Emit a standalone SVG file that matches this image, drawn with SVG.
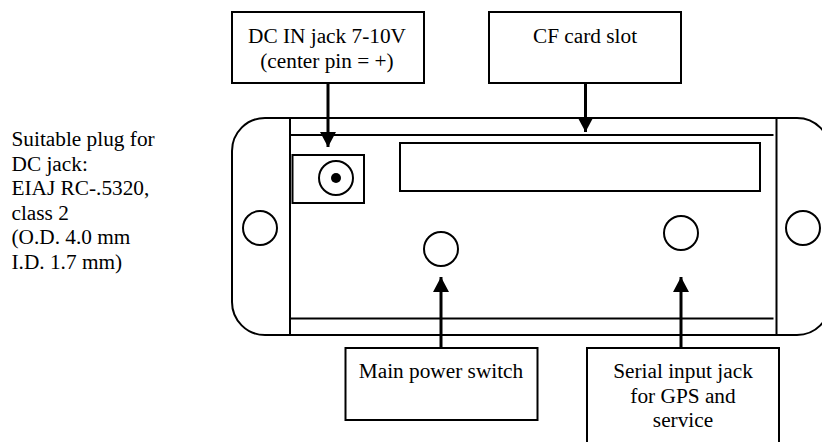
<svg xmlns="http://www.w3.org/2000/svg" width="822" height="442" viewBox="0 0 822 442">
<style>
.s{fill:none;stroke:#000;stroke-width:2}
.b{fill:#fff;stroke:#000;stroke-width:2}
.t{font-family:"Liberation Serif","Times New Roman",serif;font-size:21.3px;fill:#000}
.m{text-anchor:middle}
</style>
<defs>
<marker id="ah" markerUnits="userSpaceOnUse" markerWidth="16" markerHeight="16" refX="15" refY="8" orient="auto"><path d="M0 0L15 8L0 16Z" fill="#000"/></marker>
</defs>
<rect width="822" height="442" fill="#fff"/>
<g id="enclosure">
<rect class="s" x="232" y="118" width="598" height="217" rx="33" ry="33"/>
<path class="s" d="M290 118V335M776.5 118V335M290 135H773.5M290 318.5H773.5"/>
<circle class="s" cx="260" cy="228" r="17"/>
<circle class="s" cx="803" cy="228" r="17"/>
</g>
<g id="cf-slot"><rect class="s" x="400" y="143" width="360" height="48"/></g>
<g id="dc-jack">
<rect class="s" x="292.5" y="155" width="71.500" height="48"/>
<circle class="s" cx="336" cy="178" r="17"/>
<circle cx="336" cy="178" r="5" fill="#000"/>
</g>
<g id="power-switch"><circle class="s" cx="441" cy="249" r="17"/></g>
<g id="serial-jack"><circle class="s" cx="681" cy="233" r="17"/></g>
<g id="plug-note">
<text class="t" x="11.500" y="146">Suitable plug for</text>
<text class="t" x="11.500" y="170.500">DC jack:</text>
<text class="t" x="11.500" y="195">EIAJ RC-.5320,</text>
<text class="t" x="11.500" y="219.500">class 2</text>
<text class="t" x="11.500" y="244">(O.D. 4.0 mm</text>
<text class="t" x="11.500" y="268.500">I.D. 1.7 mm)</text>
</g>
<g id="connectors" fill="none" stroke="#000" stroke-width="3">
<path d="M328 83V147" marker-end="url(#ah)"/>
<path d="M585.500 83V132" marker-end="url(#ah)"/>
<path d="M441 348V277" marker-end="url(#ah)"/>
<path d="M681 348V277" marker-end="url(#ah)"/>
</g>
<g id="dc-in-box">
<rect class="b" x="232" y="12" width="192" height="71"/>
<text class="t m" x="327" y="43">DC IN jack 7-10V</text>
<text class="t m" x="327" y="68">(center pin = +)</text>
</g>
<g id="cf-box">
<rect class="b" x="489" y="12" width="192" height="71"/>
<text class="t m" x="585" y="43">CF card slot</text>
</g>
<g id="main-box">
<rect class="b" x="345.500" y="348" width="192" height="72"/>
<text class="t m" x="441" y="378">Main power switch</text>
</g>
<g id="serial-box">
<rect class="b" x="587" y="348" width="192" height="110"/>
<text class="t m" x="683" y="378">Serial input jack</text>
<text class="t m" x="683" y="403">for GPS and</text>
<text class="t m" x="683" y="427">service</text>
</g>
</svg>
